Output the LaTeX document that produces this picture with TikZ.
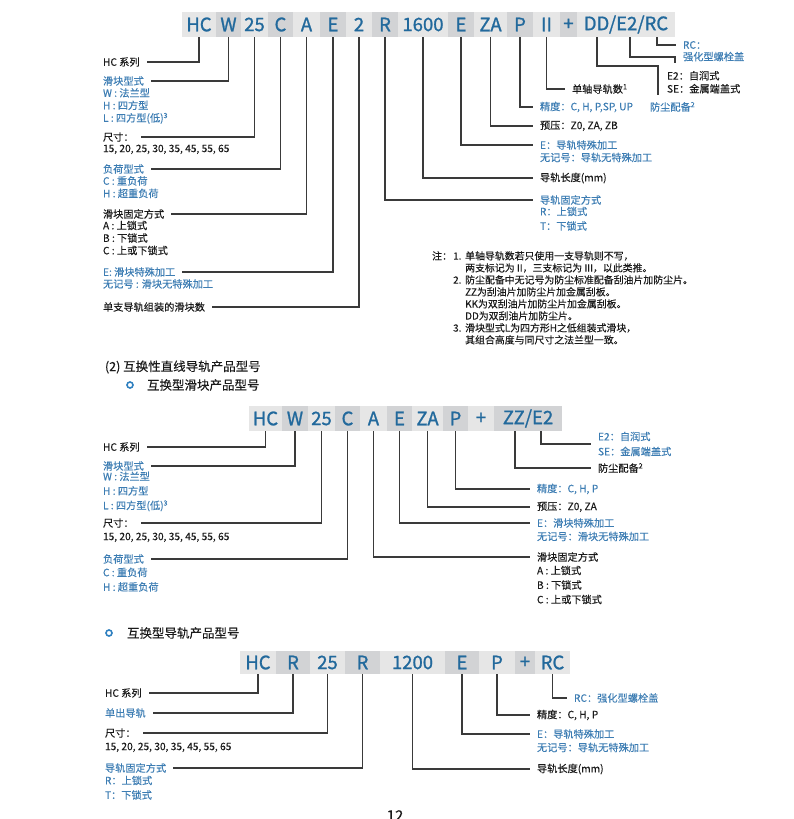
\documentclass[tikz,border=0pt]{standalone}
\usepackage{fontspec}
\setmainfont{Noto Sans CJK SC}[FakeBold=0.3]
\newfontface\cellface{Noto Sans CJK SC}[FakeBold=1.2]
\usetikzlibrary{positioning}
\definecolor{cellblue}{HTML}{22699C}
\definecolor{labblue}{HTML}{3D7DB3}
\definecolor{ringblue}{HTML}{2F80C0}
\definecolor{celllight}{HTML}{E6E6E6}
\definecolor{celldark}{HTML}{D2D3D5}
\definecolor{leadgray}{HTML}{3A3A3A}
\definecolor{labblack}{HTML}{1A1A1A}
\tikzset{
  cell/.style={inner sep=0pt,minimum height=25pt,text=cellblue,font=\cellface\fontsize{18.5}{18.5}\selectfont},
  lab/.style={inner sep=0pt,outer xsep=7pt,outer ysep=0pt,anchor=west,text=labblack,font=\fontsize{10.2}{12.5}\selectfont,align=left},
  det/.style={lab},
  wide/.style={font=\fontsize{10.2}{14.5}\selectfont},
  blu/.style={text=labblue},
  lead/.style={draw=leadgray,line width=1.1pt},
}
\begin{document}
\begin{tikzpicture}[x=1pt,y=-1pt,
  head/.style={lab,font=\fontsize{12.5}{15}\selectfont},
  ring/.style={circle,draw=ringblue,line width=1.6pt,minimum size=6pt,inner sep=0pt}]
  \useasboundingbox (0,0) rectangle (794,819);
  % row 1: block and rail code
  \foreach \nm/\tx/\l/\r/\f in {aHC/HC/182/216/celllight, aW/W/216/241/celldark, a25/25/241/268/celllight,
      aC/C/268/293/celldark, aA/A/293/320/celllight, aE/E/320/346/celldark, aN/2/346/372/celllight,
      aR/R/372/398/celldark, aLen/1600/398/448/celllight, aEr/E/448/474/celldark, aZA/ZA/474/507/celllight,
      aP/P/507/533/celldark, aII/II/533/560/celllight, aPl/+/560/577/celldark, aDD/{DD/E2/RC}/577/675/celllight}
    \node[cell,fill=\f,minimum width=\r-\l] (\nm) at ({(\l+\r)/2},24.5) {\tx};
  \coordinate (tDD) at (597,37);
  \coordinate (tE2) at (630,37);
  \coordinate (tRC) at (657,37);
  \node[lab] (l1HC) at (96,62) {HC 系列};
  \node[lab,blu] (l1W) at (96,81) {滑块型式};
  \node[det,blu,below=2.5pt of l1W.south west,anchor=north west] (d1W) {W : 法兰型\\H : 四方型\\L : 四方型(低)\textsuperscript{3}};
  \node[lab] (l1S) at (96,137) {尺寸：};
  \node[det,below=3pt of l1S.south west,anchor=north west] (d1S) {15, 20, 25, 30, 35, 45, 55, 65};
  \node[lab,blu] (l1C) at (96,169) {负荷型式};
  \node[det,blu,below=2.5pt of l1C.south west,anchor=north west] (d1C) {C : 重负荷\\H : 超重负荷};
  \node[lab] (l1A) at (96,214) {滑块固定方式};
  \node[det,below=2pt of l1A.south west,anchor=north west] (d1A) {A : 上锁式\\B : 下锁式\\C : 上或下锁式};
  \node[lab,blu] (l1E) at (96,272) {E: 滑块特殊加工};
  \node[det,blu,below=2.5pt of l1E.south west,anchor=north west] (d1E) {无记号 : 滑块无特殊加工};
  \node[lab] (l1N) at (96,307) {单支导轨组装的滑块数};
  \node[lab,blu] (r1R) at (533,200) {导轨固定方式};
  \node[det,blu,wide,below=2pt of r1R.south west,anchor=north west] (d1R) {R：上锁式\\T：下锁式};
  \node[lab] (r1L) at (533,178) {导轨长度(mm)};
  \node[lab,blu] (r1E) at (533,145) {E：导轨特殊加工};
  \node[det,blu,below=3pt of r1E.south west,anchor=north west] (d1Er) {无记号：导轨无特殊加工};
  \node[lab] (r1ZA) at (533,126) {预压：Z0, ZA, ZB};
  \node[lab,blu] (r1P) at (533,107) {精度：C, H, P,SP, UP};
  \node[lab] (r1II) at (565,89) {单轴导轨数\textsuperscript{1}};
  \node[lab,blu,anchor=north west] (dust1) at (643,102) {防尘配备\textsuperscript{2}};
  \node[lab,anchor=north west,font=\fontsize{10.2}{13}\selectfont] (r1E2) at (660,71) {E2：自润式\\SE：金属端盖式};
  \node[lab,blu] (r1RC) at (676,45) {RC：};
  \node[det,blu,below=3pt of r1RC.south west,anchor=north west] (d1RC) {强化型螺栓盖};
  \foreach \c/\l in {aHC/l1HC, aW/l1W, a25/l1S, aC/l1C, aA/l1A, aE/l1E, aN/l1N}
    \draw[lead] (\c.south) |- (\l.east);
  \foreach \c/\l in {aR/r1R, aLen/r1L, aEr/r1E, aZA/r1ZA, aP/r1P, aII/r1II, tRC/r1RC}
    \draw[lead] (\c.south) |- (\l.west);
  \coordinate (k1) at (658,66);
  \coordinate (k1e) at (658,95);
  \coordinate (k2) at (675,57);
  \coordinate (k2e) at (675,63);
  \draw[lead] (tDD) |- (k1) -- (k1e);
  \draw[lead] (tE2) |- (k2) -- (k2e);
  % notes
  \node[anchor=north west,inner sep=0pt,text=labblack,font=\fontsize{9.9}{12}\selectfont] (notes) at (432,251) {%
    \begin{tabular}{@{}p{21pt}@{}p{12pt}@{}l@{}}
    注：& 1. & 单轴导轨数若只使用一支导轨则不写，\\
     & & 两支标记为 II，三支标记为 III，以此类推。\\
     & 2. & 防尘配备中无记号为防尘标准配备刮油片加防尘片。\\
     & & ZZ为刮油片加防尘片加金属刮板。\\
     & & KK为双刮油片加防尘片加金属刮板。\\
     & & DD为双刮油片加防尘片。\\
     & 3. & 滑块型式L为四方形H之低组装式滑块，\\
     & & 其组合高度与同尺寸之法兰型一致。
    \end{tabular}};
  % row 2: interchangeable block
  \node[head] (sec2) at (98,367) {(2) 互换性直线导轨产品型号};
  \node[ring] (bul2) at (130,385) {};
  \node[head] (sub2) at (140,385) {互换型滑块产品型号};
  \foreach \nm/\tx/\l/\r/\f in {bHC/HC/249/282/celllight, bW/W/282/308/celldark, b25/25/308/335/celllight,
      bC/C/335/360/celldark, bA/A/360/387/celllight, bE/E/387/412/celldark, bZA/ZA/412/443/celllight,
      bP/P/443/468/celldark, bPl/+/468/494/celllight, bZZ/{ZZ/E2}/494/562/celldark}
    \node[cell,fill=\f,minimum width=\r-\l] (\nm) at ({(\l+\r)/2},418.5) {\tx};
  \coordinate (tZZ) at (515,431);
  \coordinate (tE22) at (541,431);
  \node[lab] (l2HC) at (96,447) {HC 系列};
  \node[lab,blu] (l2W) at (96,466) {滑块型式};
  \node[det,blu,wide,below=1pt of l2W.south west,anchor=north west] (d2W) {W : 法兰型\\H : 四方型\\L : 四方型(低)\textsuperscript{3}};
  \node[lab] (l2S) at (96,523) {尺寸：};
  \node[det,below=5pt of l2S.south west,anchor=north west] (d2S) {15, 20, 25, 30, 35, 45, 55, 65};
  \node[lab,blu] (l2C) at (96,559) {负荷型式};
  \node[det,blu,wide,below=4pt of l2C.south west,anchor=north west] (d2C) {C : 重负荷\\H : 超重负荷};
  \node[lab] (r2ZA) at (530,507) {预压：Z0, ZA};
  \node[lab,blu] (r2P) at (530,489) {精度：C, H, P};
  \node[lab,blu] (r2E) at (530,523) {E：滑块特殊加工};
  \node[det,blu,below=4pt of r2E.south west,anchor=north west] (d2E) {无记号：滑块无特殊加工};
  \node[lab] (r2A) at (530,557) {滑块固定方式};
  \node[det,wide,below=4pt of r2A.south west,anchor=north west] (d2A) {A : 上锁式\\B : 下锁式\\C : 上或下锁式};
  \node[lab] (dust2) at (591,468) {防尘配备\textsuperscript{2}};
  \node[lab,blu,font=\fontsize{10.2}{15}\selectfont] (r2E2) at (591,444) {E2：自润式\\SE：金属端盖式};
  \foreach \c/\l in {bHC/l2HC, bW/l2W, b25/l2S, bC/l2C}
    \draw[lead] (\c.south) |- (\l.east);
  \foreach \c/\l in {bA/r2A, bE/r2E, bZA/r2ZA, bP/r2P, tZZ/dust2, tE22/r2E2}
    \draw[lead] (\c.south) |- (\l.west);
  % row 3: interchangeable rail
  \node[ring] (bul3) at (109,633) {};
  \node[head] (sub3) at (120,633) {互换型导轨产品型号};
  \foreach \nm/\tx/\l/\r/\f in {cHC/HC/240/276/celllight, cR/R/276/310/celldark, c25/25/310/345/celllight,
      cRf/R/345/380/celldark, cLen/1200/380/445/celllight, cE/E/445/479/celldark, cP/P/479/515/celllight,
      cPl/+/515/535/celldark, cRC/RC/535/570/celllight}
    \node[cell,fill=\f,minimum width=\r-\l,minimum height=23pt] (\nm) at ({(\l+\r)/2},662.5) {\tx};
  \node[lab] (l3HC) at (98,693) {HC 系列};
  \node[lab,blu] (l3R) at (98,713) {单出导轨};
  \node[lab] (l3S) at (98,733) {尺寸：};
  \node[det,below=5pt of l3S.south west,anchor=north west] (d3S) {15, 20, 25, 30, 35, 45, 55, 65};
  \node[lab,blu] (l3F) at (98,768) {导轨固定方式};
  \node[det,blu,wide,below=3pt of l3F.south west,anchor=north west] (d3F) {R：上锁式\\T：下锁式};
  \node[lab] (r3L) at (530,769) {导轨长度(mm)};
  \node[lab,blu] (r3E) at (530,734) {E：导轨特殊加工};
  \node[det,blu,below=4pt of r3E.south west,anchor=north west] (d3E) {无记号：导轨无特殊加工};
  \node[lab] (r3P) at (530,715) {精度：C, H, P};
  \node[lab,blu] (r3RC) at (567,698) {RC：强化型螺栓盖};
  \foreach \c/\l in {cHC/l3HC, cR/l3R, c25/l3S, cRf/l3F}
    \draw[lead] (\c.south) |- (\l.east);
  \foreach \c/\l in {cLen/r3L, cE/r3E, cP/r3P, cRC/r3RC}
    \draw[lead] (\c.south) |- (\l.west);
  % page number
  \node[inner sep=0pt,anchor=north,text=labblack,font=\fontsize{15}{15}\selectfont] (pg) at (395,810) {12};
\end{tikzpicture}
\end{document}
